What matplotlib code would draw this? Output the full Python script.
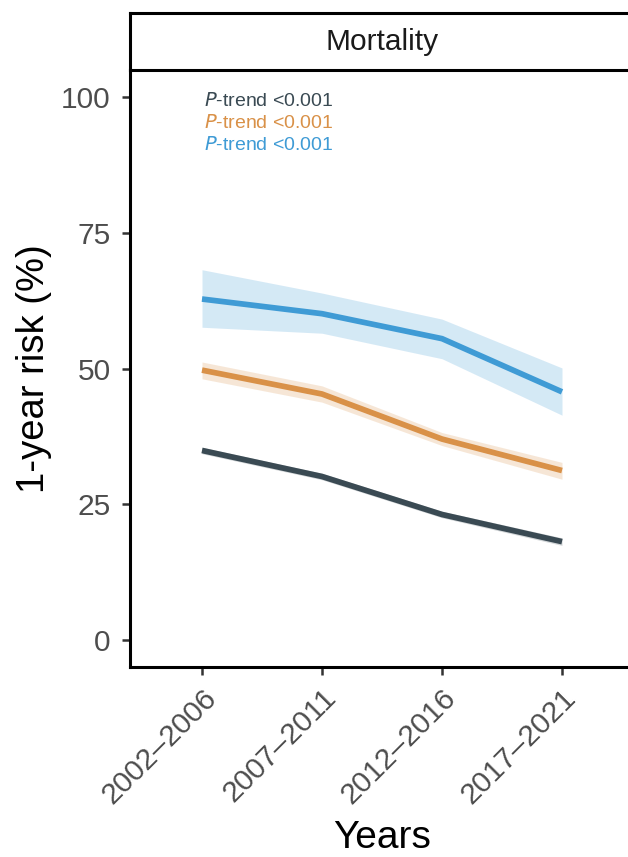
import matplotlib.pyplot as plt
import numpy as np

plt.rcParams['font.family'] = ['Liberation Sans', 'DejaVu Sans']

periods = ["2002–2006", "2007–2011", "2012–2016", "2017–2021"]

# estimated 1-year mortality risk (%) and 95% CI bounds
risk_dark = [34.9, 30.1, 23.1, 18.1]
low_dark = [34.3, 29.5, 22.5, 17.4]
high_dark = [35.5, 30.7, 23.7, 18.8]

risk_orange = [49.7, 45.3, 37.0, 31.2]
low_orange = [48.1, 43.8, 35.8, 29.6]
high_orange = [51.2, 46.8, 38.2, 32.7]

risk_blue = [62.8, 60.1, 55.5, 45.7]
low_blue = [57.6, 56.5, 51.8, 41.4]
high_blue = [68.2, 63.9, 59.1, 50.1]

trend_labels = ["<0.001", "<0.001", "<0.001"]

c_dark = "#3a4a53"
c_orange = "#d99148"
c_blue = "#3f9bd5"

fig = plt.figure(figsize=(6.28, 8.57), dpi=100)
ax = fig.add_axes([130/628, 190/857, 504/628, 597/857])
strip = fig.add_axes([130/628, 787/857, 504/628, 57/857])

x = np.arange(1, len(periods) + 1)

series = [
    (risk_dark, low_dark, high_dark, c_dark),
    (risk_orange, low_orange, high_orange, c_orange),
    (risk_blue, low_blue, high_blue, c_blue),
]
for r, lo, hi, c in series:
    ax.fill_between(x, lo, hi, color=c, alpha=0.22, lw=0)
for r, lo, hi, c in series:
    ax.plot(x, r, color=c, lw=4.1, solid_capstyle="butt", solid_joinstyle="round")

for i, (lab, c) in enumerate(zip(trend_labels, [c_dark, c_orange, c_blue])):
    ax.text(1.02, 99.3 - 4.1 * i, r"$\it{P}$" + "-trend " + lab, color=c,
            fontsize=14, ha="left", va="center")

ax.set_xlim(0.4, 4.6)
ax.set_ylim(-5, 105)
ax.set_yticks([0, 25, 50, 75, 100])
ax.set_xticks(x)
ax.set_xticklabels(periods, rotation=45, ha="right", va="top",
                   rotation_mode="anchor")
ax.tick_params(axis="both", labelsize=21.5, labelcolor="#4d4d4d",
               length=6, width=1.8, color="#333333")
ax.tick_params(axis="y", pad=8)
ax.tick_params(axis="x", pad=6)
for s in ["top", "right"]:
    ax.spines[s].set_visible(False)
for s in ["left", "bottom"]:
    ax.spines[s].set_linewidth(2.2)
ax.set_ylabel("1-year risk (%)", fontsize=27.5)
ax.set_xlabel("Years", fontsize=28)
ax.yaxis.set_label_coords(-0.155, 0.5)
ax.xaxis.set_label_coords(0.5, -0.257)

strip.set_xticks([])
strip.set_yticks([])
for s in strip.spines.values():
    s.set_linewidth(2.2)
strip.text(0.5, 0.5, "Mortality", fontsize=21.5, ha="center", va="center",
           transform=strip.transAxes, color="#1a1a1a")

fig.savefig("out.png", dpi=100)
